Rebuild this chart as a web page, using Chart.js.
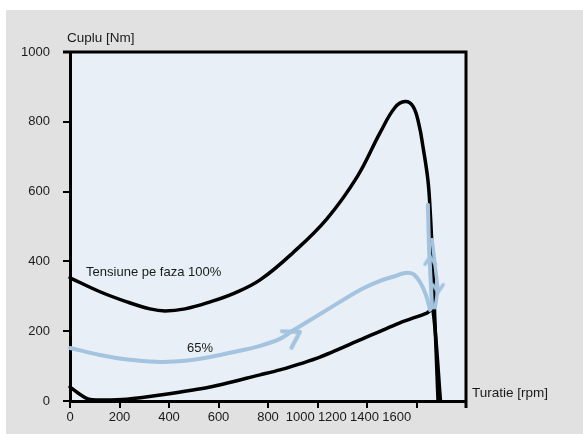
<!DOCTYPE html>
<html><head><meta charset="utf-8">
<script src="https://cdn.jsdelivr.net/npm/chart.js@4/dist/chart.umd.min.js"></script>
<style>html,body{margin:0;padding:0;background:#fff}</style>
</head><body><canvas id="c" width="583" height="434"></canvas>
<script>
// ---- data (speed in rpm, torque in Nm) ----
const xTickLabels = ['0','200','400','600','800','1000','1200','1400','1600'];
const yTickLabels = ['0','200','400','600','800','1000'];

const speed100  = [0,121,230,323,384,465,566,667,768,901,1038,1160,1253,1313,1354,1386,1410,1426,1446,1455,1463,1471,1479,1487];
const torque100 = [353,313,284,264,258,264,284,310,347,425,522,642,769,841,858,844,792,729,634,548,433,290,146,0];

const speedLoad  = [0,32,73,121,230,364,566,768,848,1010,1172,1333,1442,1466,1497];
const torqueLoad = [40,23,6,3,5,17,40,75,89,126,175,224,252,262,0];

const speed65  = [0,121,242,364,465,566,667,768,848,901,1038,1172,1253,1305,1354,1386,1414,1438,1455];
const torque65 = [152,132,118,112,115,126,141,158,178,202,261,318,344,356,367,364,341,304,261];

const speed65Up  = [1446,1451,1463];
const torque65Up = [562,430,267];
const speed65Down  = [1463,1487,1475];
const torque65Down = [463,318,267];

const arrowSpeed  = [929,1455,1487];
const arrowTorque = [198,413,312];

// ---- styles ----
const BLUE = '#a3c3de';
const FONT = '"Liberation Sans", Arial, sans-serif';

function chevron(len, half, lw){
  const s = Math.ceil(len*2+lw*2+4);
  const cv = document.createElement('canvas');
  cv.width = s; cv.height = s;
  const g = cv.getContext('2d');
  const cx = s/2, cy = s/2;
  const a = half*Math.PI/180;
  g.strokeStyle = BLUE; g.lineWidth = lw; g.lineCap = 'round'; g.lineJoin='round';
  g.beginPath();
  g.moveTo(cx - len*Math.cos(a), cy - len*Math.sin(a));
  g.lineTo(cx, cy);
  g.lineTo(cx - len*Math.cos(a), cy + len*Math.sin(a));
  g.stroke();
  return cv;
}
const bigArrow = chevron(18, 32, 4);
const smallArrow = chevron(9, 35, 3.5);

function pts(xs, ys){ return xs.map((x,i)=>({x:x, y:ys[i]})); }

const bgPlugin = {
  id:'bg',
  beforeDraw(chart){
    const ctx = chart.ctx, a = chart.chartArea;
    ctx.save();
    ctx.fillStyle = '#ffffff'; ctx.fillRect(0,0,chart.width,chart.height);
    ctx.fillStyle = '#e1e1e1'; ctx.fillRect(6,10,chart.width-6,chart.height-10);
    ctx.fillStyle = '#e8eff7'; ctx.fillRect(a.left,a.top,a.right-a.left,a.bottom-a.top);
    ctx.restore();
  },
  beforeDatasetsDraw(chart){
    const ctx = chart.ctx, a = chart.chartArea;
    ctx.save();
    ctx.strokeStyle = '#000'; ctx.lineWidth = 3;
    ctx.beginPath();
    ctx.moveTo(a.left-7, a.top); ctx.lineTo(a.right, a.top); ctx.lineTo(a.right, a.bottom+7);
    ctx.stroke();
    ctx.restore();
  },
  afterDraw(chart){
    const ctx = chart.ctx, a = chart.chartArea, xs = chart.scales.x, ys = chart.scales.y;
    ctx.save();
    ctx.fillStyle = '#1a1a1a';
    ctx.font = '13px ' + FONT;
    ctx.textBaseline = 'middle';
    // x tick labels (the original squeezes the labels above 800)
    ctx.textAlign = 'center';
    const p800 = xs.getPixelForValue(800), p1600 = xs.getPixelForValue(1600);
    xTickLabels.forEach(l=>{
      const v = +l;
      let px = v <= 800 ? xs.getPixelForValue(v) : p800 + (v-800)/800*(p1600-p800)*0.65;
      ctx.fillText(l, px, a.bottom + 16);
    });
    ctx.font = '13.5px ' + FONT;
    ctx.textAlign = 'left';
    ctx.fillText('Cuplu [Nm]', a.left - 3, a.top - 14);
    ctx.fillText('Turatie [rpm]', a.right + 6, a.bottom - 8);
    ctx.font = '13px ' + FONT;
    ctx.fillText('Tensiune pe faza 100%', xs.getPixelForValue(65), ys.getPixelForValue(367));
    ctx.textAlign = 'center';
    ctx.fillText('65%', xs.getPixelForValue(525), ys.getPixelForValue(152));
    ctx.restore();
  }
};

const lineBase = {fill:false, pointRadius:0, clip:false, borderCapStyle:'round', borderJoinStyle:'round'};

new Chart(document.getElementById('c'), {
  type:'line',
  data:{datasets:[
    Object.assign({}, lineBase, {label:'65%', data:pts(speed65,torque65), borderColor:BLUE, borderWidth:4, tension:0.35, order:0}),
    Object.assign({}, lineBase, {label:'65% up', data:pts(speed65Up,torque65Up), borderColor:BLUE, borderWidth:4, tension:0, order:0}),
    Object.assign({}, lineBase, {label:'65% down', data:pts(speed65Down,torque65Down), borderColor:BLUE, borderWidth:3.5, tension:0, order:0}),
    {label:'arrows', data:pts(arrowSpeed,arrowTorque), showLine:false, clip:false,
      pointStyle:[bigArrow, smallArrow, smallArrow], rotation:[-30,-90,90],
      pointRadius:10, pointHoverRadius:10, order:0},
    Object.assign({}, lineBase, {label:'100%', data:pts(speed100,torque100), borderColor:'#000', borderWidth:3.5, tension:0.4, order:1}),
    Object.assign({}, lineBase, {label:'load', data:pts(speedLoad,torqueLoad), borderColor:'#000', borderWidth:3.5, tension:0.25, order:1})
  ]},
  options:{
    responsive:false, animation:false, devicePixelRatio:1,
    layout:{padding:{left:0,right:117,top:52,bottom:0}},
    plugins:{legend:{display:false}, tooltip:{enabled:false}},
    scales:{
      x:{type:'linear', min:0, max:1600,
        ticks:{display:false, stepSize:200},
        grid:{drawOnChartArea:false, drawTicks:true, tickLength:7, color:'#000', lineWidth:2},
        border:{display:true, color:'#000', width:3},
        afterFit(s){ s.height = 33; }
      },
      y:{type:'linear', min:0, max:1000,
        ticks:{stepSize:200, padding:13, color:'#1a1a1a', font:{family:FONT, size:13},
          callback:(v)=> yTickLabels.includes(String(v)) ? String(v) : ''},
        grid:{drawOnChartArea:false, drawTicks:true, tickLength:7, color:'#000', lineWidth:2},
        border:{display:true, color:'#000', width:3},
        afterFit(s){ s.width = 70; }
      }
    }
  },
  plugins:[bgPlugin]
});
</script></body></html>
